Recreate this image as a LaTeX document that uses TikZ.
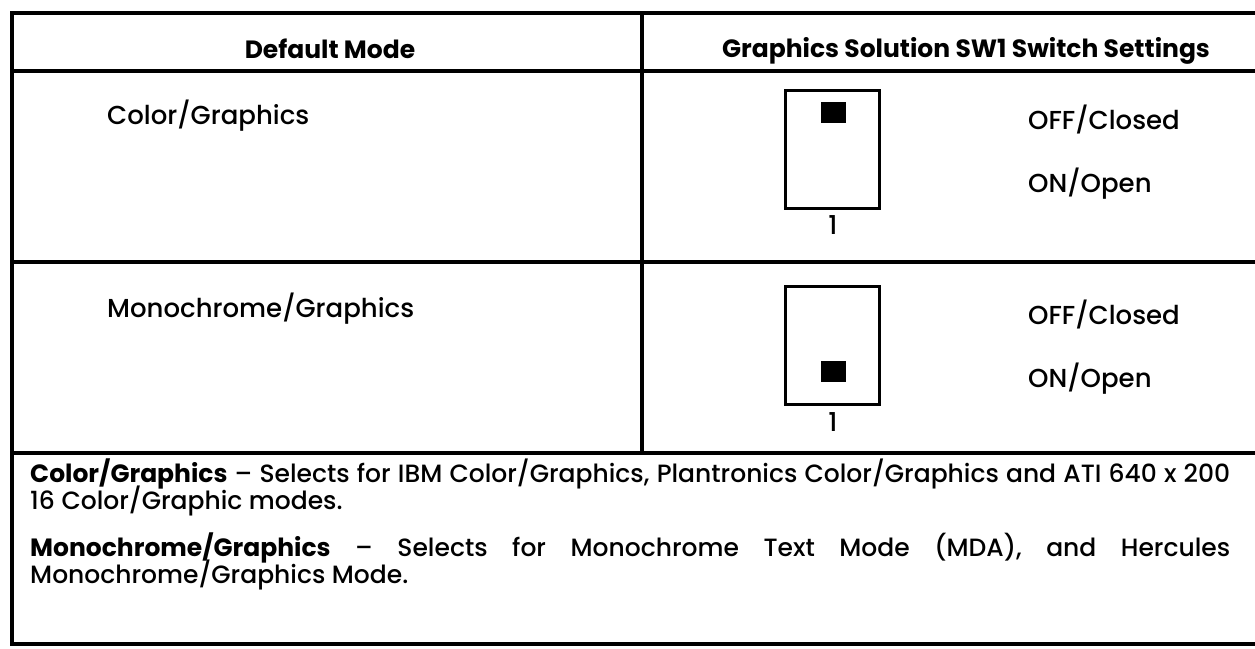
\documentclass[tikz,border=0pt]{standalone}
\usepackage{fontspec}
\setmainfont{Poppins Medium}[BoldFont={Poppins Bold}]
\begin{document}
\begin{tikzpicture}[x=1pt,y=-1pt,
  rule/.style={line width=4pt},
  hdr/.style={font=\fontsize{25}{30}\selectfont\bfseries, inner sep=0pt},
  body/.style={font=\fontsize{26}{31}\selectfont, inner sep=0pt, anchor=west},
  note/.style={font=\fontsize{25}{30}\selectfont, inner sep=0pt, anchor=west},
  swbox/.style={draw, line width=3pt, minimum width=94pt, minimum height=118pt, inner sep=0pt},
  knob/.style={fill=black, minimum width=25pt, minimum height=21pt, inner sep=0pt},
  pin/.style={font=\fontsize{26}{31}\selectfont, inner sep=0pt}]
\useasboundingbox (0,0) rectangle (1255,648);
\clip (0,0) rectangle (1255,648);
\fill[white] (0,0) rectangle (1255,648);

% table frame and rules
\draw[rule] (12,13) rectangle (1275,644);
\draw[rule] (12,71) -- (1275,71);
\draw[rule] (12,262) -- (1275,262);
\draw[rule] (12,453) -- (1275,453);
\draw[rule] (642,13) -- (642,453);

% column headings
\node[hdr] (hmode) at (330,49) {Default Mode};
\node[hdr] (hsw) at (966,51) {Graphics Solution SW1 Switch Settings};

% first row: colour/graphics
\node[body] (mcolor) at (107,116) {Color/Graphics};
\node[swbox] (sw1) at (832.5,149.5) {};
\node[knob] (k1) at (833.5,112.5) {};
\node[pin] (p1) at (833,225) {1};
\node[body] (off1) at (1028,119) {OFF/Closed};
\node[body] (on1) at (1028,184) {ON/Open};

% second row: monochrome/graphics
\node[body] (mmono) at (107,309) {Monochrome/Graphics};
\node[swbox] (sw2) at (832.5,345) {};
\node[knob] (k2) at (833.5,371) {};
\node[pin] (p2) at (833,422) {1};
\node[body] (off2) at (1028,314) {OFF/Closed};
\node[body] (on2) at (1028,379) {ON/Open};

% notes
\node[note] (note1) at (30,474) {\makebox[1200pt][s]{\textbf{Color/Graphics} -- Selects for IBM Color/Graphics, Plantronics Color/Graphics and ATI 640 x 200}};
\node[note] (note1b) at (30,501) {16 Color/Graphic modes.};
\node[note] (note2) at (30,548) {\makebox[1200pt][s]{\textbf{Monochrome/Graphics} -- Selects for Monochrome Text Mode (MDA), and Hercules}};
\node[note] (note2b) at (30,575) {Monochrome/Graphics Mode.};
\end{tikzpicture}
\end{document}
